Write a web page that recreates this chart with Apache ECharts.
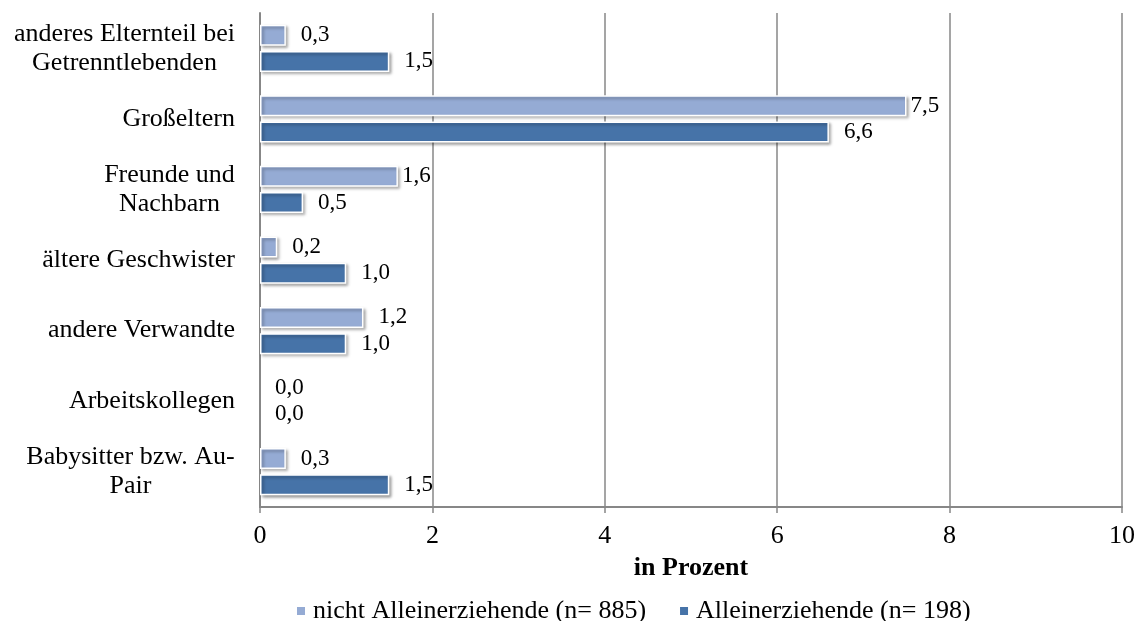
<!DOCTYPE html>
<html>
<head>
<meta charset="utf-8">
<script src="https://cdn.jsdelivr.net/npm/echarts@6/dist/echarts.min.js"></script>
<style>
  html, body { margin: 0; padding: 0; background: #fff; }
  #chart { width: 1139px; height: 621px; }
</style>
</head>
<body>
<div id="chart"></div>
<script>
// categories top to bottom
var categories = [
  "anderes Elternteil bei\nGetrenntlebenden",
  "Großeltern",
  "Freunde und\nNachbarn",
  "ältere Geschwister",
  "andere Verwandte",
  "Arbeitskollegen",
  "Babysitter bzw. Au-\nPair"
];
var seriesNames = ["nicht Alleinerziehende (n= 885)", "Alleinerziehende (n= 198)"];
var nichtAllein = [0.3, 7.5, 1.6, 0.2, 1.2, 0.0, 0.3];
var allein = [1.5, 6.6, 0.5, 1.0, 1.0, 0.0, 1.5];
var xTicks = [0, 2, 4, 6, 8, 10];

var FONT = '"Liberation Serif", "Times New Roman", serif';
var CAT_SIZE = 26;
var colors = ["#95abd4", "#4673a8"];
var gridColor = "#878787";

// labels that sit close to the bar end in the reference
var tightLabels = { 0: [1, 2] };

function fmt(v) {
  return v.toFixed(1).replace(".", ",");
}

function buildData(values, seriesIdx) {
  return values.map(function (v, i) {
    var tight = tightLabels[seriesIdx] && tightLabels[seriesIdx].indexOf(i) >= 0;
    var item = { value: v, label: { distance: tight ? 4 : 15 } };
    // no border/shadow stub for empty bars
    if (v === 0) item.itemStyle = { borderWidth: 0, shadowBlur: 0, shadowColor: "transparent", shadowOffsetX: 0, shadowOffsetY: 0 };
    return item;
  });
}

// multi-line category labels: lines centred within the block, block right-aligned
var ctx = document.createElement("canvas").getContext("2d");
ctx.font = CAT_SIZE + "px " + FONT;
var richStyles = {};
var catFormat = {};
categories.forEach(function (c, i) {
  var lines = c.split("\n");
  if (lines.length < 2) { catFormat[c] = c; return; }
  var w = Math.max.apply(null, lines.map(function (l) { return ctx.measureText(l).width; }));
  var key = "c" + i;
  richStyles[key] = { width: Math.ceil(w), align: "center", fontSize: CAT_SIZE, fontFamily: FONT, color: "#000", lineHeight: 29 };
  catFormat[c] = lines.map(function (l) { return "{" + key + "|" + l + "}"; }).join("\n");
});

var dom = document.getElementById("chart");
var myChart = echarts.init(dom);

var barStyle = function (c) {
  return {
    color: c,
    borderColor: "#ffffff",
    borderWidth: 1.5,
    shadowColor: "rgba(0,0,0,0.35)",
    shadowBlur: 3,
    shadowOffsetX: 2,
    shadowOffsetY: 2
  };
};

var labelStyle = {
  show: true,
  position: "right",
  color: "#000",
  fontFamily: FONT,
  fontSize: 23,
  formatter: function (p) { return fmt(p.value); }
};

var option = {
  animation: false,
  textStyle: { fontFamily: FONT },
  grid: { left: 260, right: 17, top: 13, bottom: 114, containLabel: false },
  legend: {
    top: 593,
    left: 290,
    itemWidth: 10,
    itemHeight: 10,
    itemGap: 32,
    icon: "rect",
    textStyle: { fontFamily: FONT, fontSize: 26, color: "#000", padding: [0, 0, 0, 2] },
    data: seriesNames
  },
  xAxis: {
    type: "value",
    min: xTicks[0],
    max: xTicks[xTicks.length - 1],
    interval: 2,
    name: "in Prozent",
    nameLocation: "middle",
    nameGap: 48,
    nameTextStyle: { fontFamily: FONT, fontSize: 26, fontWeight: "bold", color: "#000" },
    axisLine: { show: true, lineStyle: { color: gridColor, width: 2 } },
    axisTick: { show: true, length: 6, lineStyle: { color: gridColor, width: 1.5 } },
    axisLabel: { fontFamily: FONT, fontSize: 26, color: "#000", margin: 16 },
    splitLine: { show: true, lineStyle: { color: gridColor, width: 1.5 } }
  },
  yAxis: {
    type: "category",
    inverse: true,
    data: categories,
    axisLine: { show: true, lineStyle: { color: gridColor, width: 2 } },
    axisTick: { show: false },
    axisLabel: {
      fontFamily: FONT,
      fontSize: CAT_SIZE,
      color: "#000",
      margin: 25,
      lineHeight: 29,
      rich: richStyles,
      formatter: function (v) { return catFormat[v]; }
    }
  },
  series: [
    {
      name: seriesNames[0],
      type: "bar",
      barWidth: 21,
      barGap: "25%",
      itemStyle: barStyle(colors[0]),
      label: labelStyle,
      data: buildData(nichtAllein, 0)
    },
    {
      name: seriesNames[1],
      type: "bar",
      barWidth: 21,
      barGap: "25%",
      itemStyle: barStyle(colors[1]),
      label: labelStyle,
      data: buildData(allein, 1)
    }
  ]
};

myChart.setOption(option);
</script>
</body>
</html>
